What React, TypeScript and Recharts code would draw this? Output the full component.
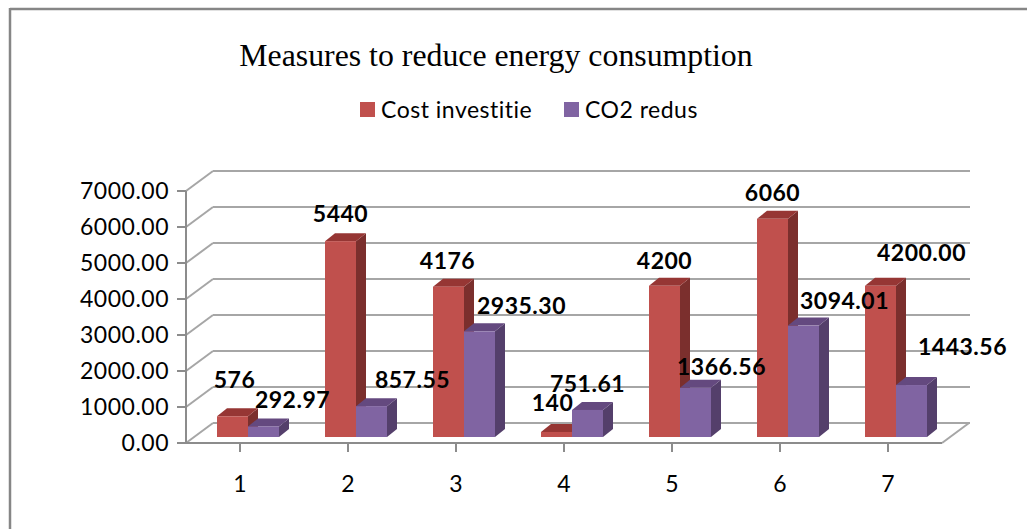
import { BarChart, Bar, XAxis, YAxis, CartesianGrid, LabelList } from "recharts";

const categories = ["1", "2", "3", "4", "5", "6", "7"];
const costValues = [576, 5440, 4176, 140, 4200, 6060, 4200];
const co2Values = [292.97, 857.55, 2935.3, 751.61, 1366.56, 3094.01, 1443.56];
const costLabels = ["576", "5440", "4176", "140", "4200", "6060", "4200.00"];
const co2Labels = ["292.97", "857.55", "2935.30", "751.61", "1366.56", "3094.01", "1443.56"];
const yTicks = [0, 1000, 2000, 3000, 4000, 5000, 6000, 7000];

// hand placed labels in the original, so offsets from the top of each bar
const costLabelOffsets = [[2, -36], [0, -27], [-1, -26], [-4, -29], [0, -25], [0, -26], [41, -33]];
const co2LabelOffsets = [[29, -26], [41, -26], [42, -25], [0, -26], [26, -21], [41, -25], [51, -38]];

const data = categories.map((name, i) => ({ name, cost: costValues[i], co2: co2Values[i] }));

const FONT = "Lato, sans-serif";
const FONT_SIZE = 23;
const SPACING = 0.5;
const GRID = "#a6a6a6";
const AXIS = "#8c8c8c";
// depth of the fake 3D box
const WALL_X = 27;
const WALL_Y = 20;
// bars stand in the middle of the floor
const BAR_X = 8;
const BAR_Y = 6;
const DEPTH_X = 10;
const DEPTH_Y = 8;

function Bar3D(props: any) {
  const { x, y, width, height, fill, topFill, sideFill } = props;
  const l = x + BAR_X;
  const r = l + width;
  const t = y - BAR_Y;
  const b = t + height;
  return (
    <g>
      <polygon points={`${r},${t} ${r + DEPTH_X},${t - DEPTH_Y} ${r + DEPTH_X},${b - DEPTH_Y} ${r},${b}`} fill={sideFill} />
      <polygon points={`${l},${t} ${l + DEPTH_X},${t - DEPTH_Y} ${r + DEPTH_X},${t - DEPTH_Y} ${r},${t}`} fill={topFill} />
      <rect x={l} y={t} width={width} height={height} fill={fill} />
    </g>
  );
}

function GridLine3D(props: any) {
  const { x1, x2, y1, index } = props;
  const back = y1 - WALL_Y;
  return (
    <g key={`grid-${index}`} stroke={GRID} strokeWidth={2} fill="none">
      <line x1={x1} y1={y1} x2={x1 + WALL_X} y2={back} />
      <line x1={x1 + WALL_X} y1={back} x2={x2 + WALL_X + 1} y2={back} />
      {y1 > 440 && <line x1={x2} y1={y1} x2={x2 + WALL_X} y2={back} />}
    </g>
  );
}

function makeLabel(texts: string[], offsets: number[][]) {
  return function BarLabel(props: any) {
    const { x, y, width, index } = props;
    const [dx, dy] = offsets[index];
    return (
      <text
        x={x + BAR_X + width / 2 + dx}
        y={y - BAR_Y + dy + 8}
        textAnchor="middle"
        fontFamily={FONT}
        fontSize={FONT_SIZE}
        fontWeight={700}
        letterSpacing={SPACING}
        fill="#000"
      >
        {texts[index]}
      </text>
    );
  };
}

function LegendRow() {
  return (
    <g fontFamily={FONT} fontSize={FONT_SIZE} letterSpacing={SPACING} fill="#000">
      <rect x={360} y={102} width={15} height={15} fill="#c0504d" />
      <text x={381} y={118}>Cost investitie</text>
      <rect x={564} y={102} width={15} height={15} fill="#8064a2" />
      <text x={585} y={118}>CO2 redus</text>
    </g>
  );
}

export default function App() {
  return (
    <div style={{ position: "absolute", left: 0, top: 0, width: 1027, height: 529, background: "#fff" }}>
      <BarChart
        width={1027}
        height={529}
        data={data}
        margin={{ top: 191, right: 85, bottom: 56, left: 76 }}
        barSize={31}
        barGap={0}
      >
        <line x1={10} y1={9} x2={1027} y2={9} stroke="#868686" strokeWidth={2.5} />
        <line x1={10} y1={8} x2={10} y2={529} stroke="#868686" strokeWidth={2.5} />
        <text x={496} y={66} textAnchor="middle" fontFamily="Liberation Serif" fontSize={31.8} fill="#000">
          Measures to reduce energy consumption
        </text>
        <LegendRow />
        <CartesianGrid horizontal={GridLine3D} vertical={false} />
        <XAxis
          dataKey="name"
          tickLine={{ stroke: AXIS, strokeWidth: 2 }}
          axisLine={{ stroke: AXIS, strokeWidth: 2 }}
          tickSize={9}
          tickMargin={24}
          tick={{ fontFamily: FONT, fontSize: FONT_SIZE, fill: "#000" }}
        />
        <YAxis
          domain={[0, 7000]}
          ticks={yTicks}
          width={110}
          tickFormatter={(v: number) => v.toFixed(2)}
          tickLine={{ stroke: AXIS, strokeWidth: 2 }}
          axisLine={{ stroke: AXIS, strokeWidth: 2 }}
          tickSize={9}
          tickMargin={8}
          tick={{ fontFamily: FONT, fontSize: FONT_SIZE, letterSpacing: SPACING, fill: "#000" }}
        />
        <Bar
          dataKey="cost"
          fill="#c0504d"
          isAnimationActive={false}
          shape={(p: any) => <Bar3D {...p} fill="#c0504d" topFill="#963634" sideFill="#7b2f2d" />}
        >
          <LabelList dataKey="cost" content={makeLabel(costLabels, costLabelOffsets)} />
        </Bar>
        <Bar
          dataKey="co2"
          fill="#8064a2"
          isAnimationActive={false}
          shape={(p: any) => <Bar3D {...p} fill="#8064a2" topFill="#64497f" sideFill="#543f6b" />}
        >
          <LabelList dataKey="co2" content={makeLabel(co2Labels, co2LabelOffsets)} />
        </Bar>
      </BarChart>
    </div>
  );
}
